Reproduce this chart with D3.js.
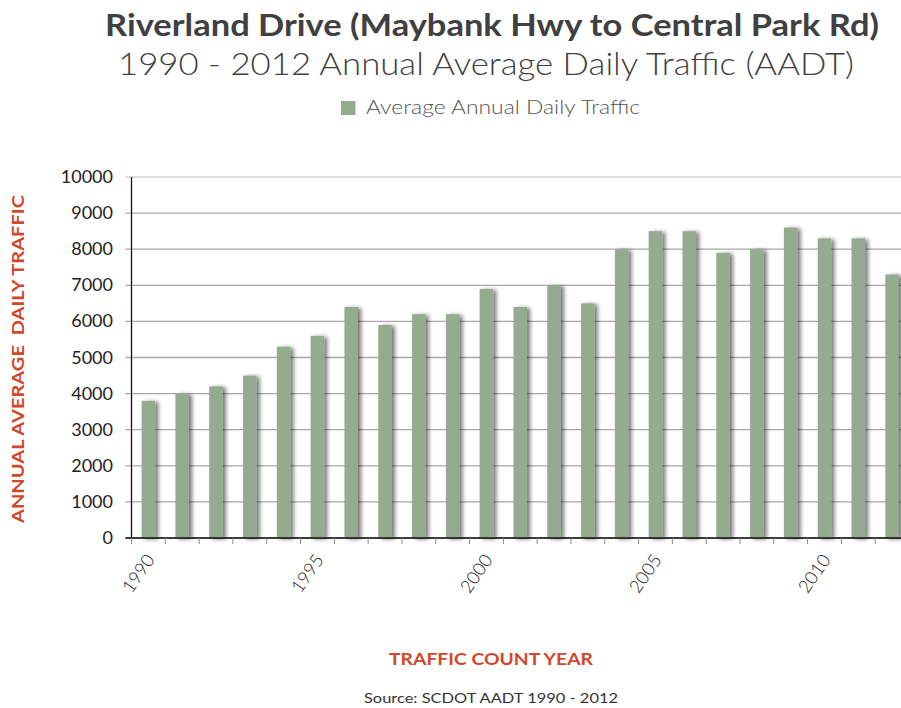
<!DOCTYPE html>
<html><head><meta charset="utf-8">
<script src="https://cdn.jsdelivr.net/npm/d3@7"></script>
<style>
html,body{margin:0;padding:0;background:#fff;}
svg{display:block;font-family:"Lato","Open Sans",sans-serif;}
</style></head>
<body>
<svg id="c" width="901" height="708"></svg>
<script>
const years = [1990,1991,1992,1993,1994,1995,1996,1997,1998,1999,2000,2001,2002,2003,2004,2005,2006,2007,2008,2009,2010,2011,2012];
const aadt = [3800,4000,4200,4500,5300,5600,6400,5900,6200,6200,6900,6400,7000,6500,8000,8500,8500,7900,8000,8600,8300,8300,7300];
const yTicks = [0,1000,2000,3000,4000,5000,6000,7000,8000,9000,10000];
const xLabelYears = [1990,1995,2000,2005,2010];
const seriesName = "Average Annual Daily Traffic";

(function(){
const svg = d3.select("#c");
const pLeft = 131.5, pRight = 909, pTop = 177, pBottom = 538;

const x = d3.scaleBand().domain(years).range([pLeft, pRight]).paddingInner(0.6).paddingOuter(0.3);
const xb = d3.scaleBand().domain(years).range([pLeft, pRight]);
const y = d3.scaleLinear().domain([0,10000]).range([pBottom, pTop]);

const defs = svg.append("defs");
const f = defs.append("filter").attr("id","sh").attr("x","-50%").attr("y","-5%").attr("width","200%").attr("height","110%");
f.append("feGaussianBlur").attr("in","SourceAlpha").attr("stdDeviation",2.2).attr("result","b");
f.append("feOffset").attr("in","b").attr("dx",3).attr("dy",1).attr("result","o");
f.append("feComponentTransfer").attr("in","o").attr("result","o2").append("feFuncA").attr("type","linear").attr("slope",0.55);
const m = f.append("feMerge"); m.append("feMergeNode").attr("in","o2"); m.append("feMergeNode").attr("in","SourceGraphic");

// Titles
svg.append("text").attr("x",492).attr("y",36).attr("text-anchor","middle")
  .attr("font-size",30).attr("font-weight","bold").attr("fill","#404040")
  .attr("textLength",774).attr("lengthAdjust","spacingAndGlyphs")
  .text("Riverland Drive (Maybank Hwy to Central Park Rd)");
svg.append("text").attr("x",486).attr("y",75).attr("text-anchor","middle")
  .attr("font-size",31).attr("font-weight",300).attr("fill","#404040")
  .attr("textLength",736).attr("lengthAdjust","spacingAndGlyphs")
  .text("1990 - 2012 Annual Average Daily Traffic (AADT)");

// Legend
svg.append("rect").attr("x",341).attr("y",101).attr("width",14.5).attr("height",14).attr("fill","#94ab8f");
svg.append("text").attr("x",366).attr("y",114).attr("font-size",19).attr("font-weight",300).attr("fill","#555")
  .attr("textLength",274).attr("lengthAdjust","spacingAndGlyphs").text(seriesName);

// Grid
svg.append("g").selectAll("line").data(yTicks).join("line")
  .attr("x1",pLeft-6).attr("x2",901).attr("y1",d=>y(d)).attr("y2",d=>y(d))
  .attr("stroke",d=>d===10000?"#d0d0d0":"#a8a8a8").attr("stroke-width",1.3);

// Y labels
svg.append("g").selectAll("text").data(yTicks).join("text")
  .attr("x",113).attr("y",d=>y(d)+6).attr("text-anchor","end")
  .attr("font-size",18).attr("fill","#222").text(d=>d);

// Bars
svg.append("g").attr("filter","url(#sh)").selectAll("rect").data(years).join("rect")
  .attr("x",d=>x(d)).attr("width",x.bandwidth())
  .attr("y",(d,i)=>y(aadt[i])).attr("height",(d,i)=>pBottom-y(aadt[i]))
  .attr("fill","#94ab8f");

// Axes lines
svg.append("line").attr("x1",pLeft).attr("x2",pLeft).attr("y1",pTop).attr("y2",pBottom).attr("stroke","#111").attr("stroke-width",1.3);
svg.append("line").attr("x1",pLeft-6).attr("x2",901).attr("y1",pBottom).attr("y2",pBottom).attr("stroke","#111").attr("stroke-width",1.3);
svg.append("g").selectAll("line").data(years).join("line")
  .attr("x1",d=>xb(d)).attr("x2",d=>xb(d)).attr("y1",pBottom).attr("y2",pBottom+6)
  .attr("stroke","#888").attr("stroke-width",1);

// X labels
svg.append("g").selectAll("text").data(xLabelYears).join("text")
  .attr("transform",d=>`translate(${x(d)+x.bandwidth()/2+7},${pBottom+22}) rotate(-55)`)
  .attr("text-anchor","end").attr("font-size",18).attr("font-weight",300).attr("fill","#222").text(d=>d);

// Axis titles
svg.append("text").attr("transform","translate(24,359) rotate(-90)").attr("text-anchor","middle")
  .attr("xml:space","preserve").style("white-space","pre")
  .attr("font-size",17).attr("font-weight","bold").attr("fill","#d2472a")
  .attr("textLength",328).attr("lengthAdjust","spacingAndGlyphs")
  .text("ANNUAL AVERAGE  DAILY TRAFFIC");
svg.append("text").attr("x",491).attr("y",665).attr("text-anchor","middle")
  .attr("font-size",17).attr("font-weight","bold").attr("fill","#d2472a")
  .attr("textLength",204).attr("lengthAdjust","spacingAndGlyphs")
  .text("TRAFFIC COUNT YEAR");
svg.append("text").attr("x",491).attr("y",703).attr("text-anchor","middle")
  .attr("font-size",14).attr("fill","#333")
  .attr("textLength",254).attr("lengthAdjust","spacingAndGlyphs")
  .text("Source: SCDOT AADT 1990 - 2012");
})();
</script>
</body></html>
